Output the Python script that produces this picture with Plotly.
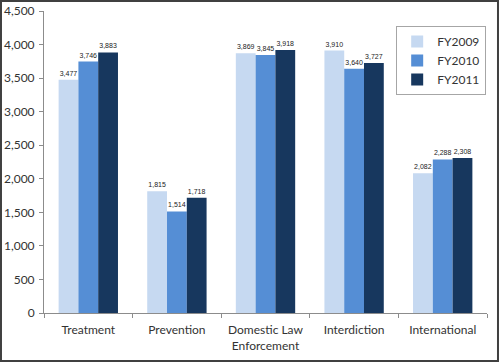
import plotly.graph_objects as go

categories = ["Treatment", "Prevention", "Domestic Law<br>Enforcement", "Interdiction", "International"]
series_names = ["FY2009", "FY2010", "FY2011"]
fy2009 = [3477, 1815, 3869, 3910, 2082]
fy2010 = [3746, 1514, 3845, 3640, 2288]
fy2011 = [3883, 1718, 3918, 3727, 2308]
colors = ["#c6d9f1", "#558ed5", "#17375e"]

fig = go.Figure()
for name, vals, col in zip(series_names, [fy2009, fy2010, fy2011], colors):
    fig.add_trace(go.Bar(
        x=categories, y=vals, name=name, marker=dict(color=col, line=dict(width=0)),
        text=vals, texttemplate="%{y:,}", textposition="outside",
        textfont=dict(size=7, color="#222222", family="Liberation Sans"),
        cliponaxis=False,
    ))

fig.update_layout(
    width=500, height=363,
    margin=dict(l=44, r=13, t=11, b=50, autoexpand=False),
    paper_bgcolor="white", plot_bgcolor="white",
    barmode="group", bargap=0.33, bargroupgap=0,
    font=dict(family="Lato", size=12, color="#333333"),
    legend=dict(x=0.795, y=0.95, xanchor="left", yanchor="top",
                bordercolor="#a6a6a6", borderwidth=1, bgcolor="white",
                font=dict(size=12, color="#333333"), tracegroupgap=2,
                itemwidth=30),
    xaxis=dict(showline=True, linecolor="#8c8c8c", linewidth=1,
               ticks="outside", tickson="boundaries", ticklen=4, tickcolor="#8c8c8c",
               showgrid=False, tickfont=dict(size=12), automargin=False,
               ticklabelstandoff=6),
    yaxis=dict(range=[0, 4500], dtick=500, tickformat=",", showline=True,
               linecolor="#8c8c8c", linewidth=1, ticks="outside", ticklen=4,
               tickcolor="#8c8c8c", showgrid=False, zeroline=False,
               tickfont=dict(size=12), automargin=False, ticklabelstandoff=2),
    shapes=[dict(type="rect", xref="paper", yref="paper",
                 x0=-0.0971, x1=1.0248, y0=-0.159, y1=1.033,
                 line=dict(color="#404040", width=2))],
)

fig.write_html("out.html", config={"displayModeBar": False})
with open("out.html", "r", encoding="utf-8") as f:
    html = f.read()
html = html.replace("<head>", "<head><style>html,body{margin:0;padding:0;overflow:hidden;}</style>", 1)
with open("out.html", "w", encoding="utf-8") as f:
    f.write(html)
